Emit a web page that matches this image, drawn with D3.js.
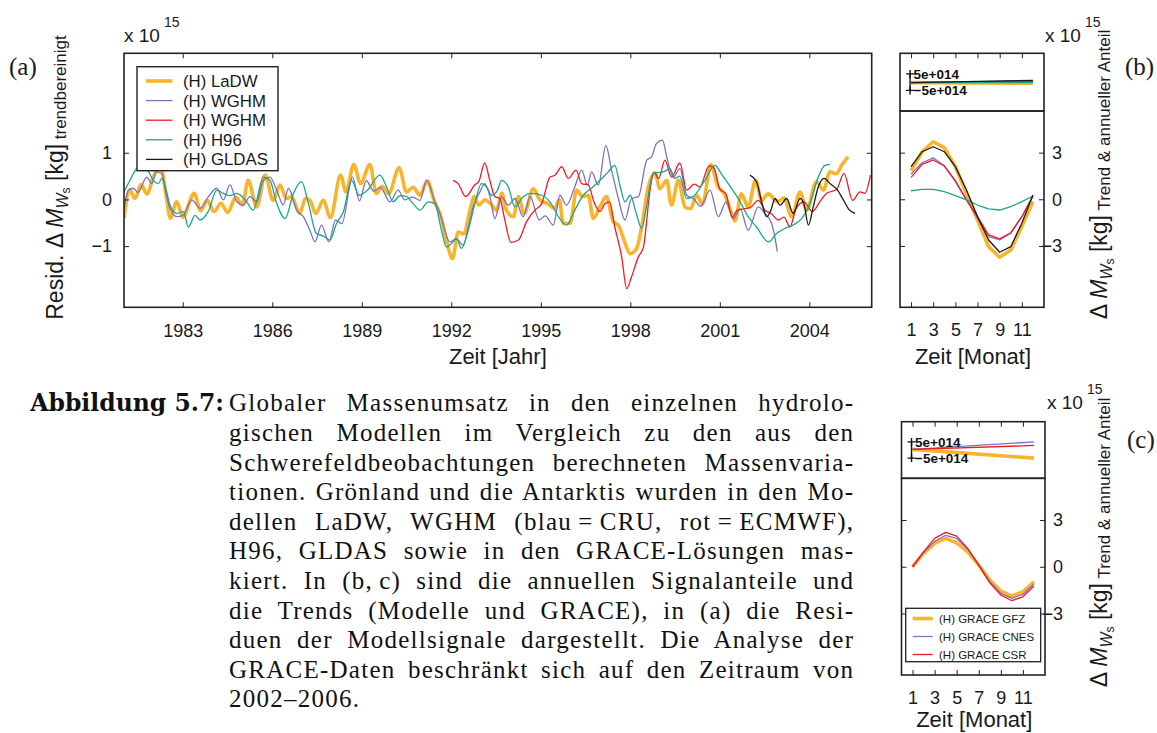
<!DOCTYPE html>
<html lang="de">
<head>
<meta charset="utf-8">
<title>Globaler Massenumsatz – hydrologische Modelle und GRACE</title>
<script src="https://cdn.jsdelivr.net/npm/d3@7/dist/d3.min.js"></script>
<style>
  html, body { margin: 0; padding: 0; background: #fff; }
  svg { display: block; }
</style>
</head>
<body>
<svg id="fig" width="1157" height="733"></svg>
<script>
// ---------------------------------------------------------------
// (a) detrended residuals, [decimal year, 10^15 kg]
// ---------------------------------------------------------------
const ladwResid = [
  [1981.03,-0.40],[1981.22,0.20],[1981.40,0.02],[1981.60,0.32],[1981.80,0.12],[1982.02,0.50],
  [1982.25,0.72],[1982.45,0.05],[1982.58,-0.40],[1982.80,-0.05],[1983.00,-0.38],[1983.38,0.13],
  [1983.60,-0.24],[1983.82,-0.02],[1984.05,-0.26],[1984.28,-0.08],[1984.50,-0.28],[1984.78,0.05],
  [1985.00,-0.12],[1985.19,0.41],[1985.48,-0.16],[1985.76,0.52],[1986.03,-0.02],[1986.26,0.31],
  [1986.47,0.02],[1986.64,0.06],[1986.92,-0.30],[1987.11,0.02],[1987.26,-0.02],[1987.46,-0.30],
  [1987.71,-0.02],[1987.95,-0.39],[1988.29,0.52],[1988.47,0.16],[1988.73,0.75],[1988.96,0.34],
  [1989.27,0.75],[1989.49,0.13],[1989.68,0.28],[1989.90,0.12],[1990.25,0.68],[1990.50,0.16],
  [1990.72,0.26],[1990.95,0.09],[1991.20,0.40],[1991.42,-0.02],[1991.67,-0.40],[1991.88,-1.00],
  [1992.04,-1.27],[1992.23,-0.70],[1992.42,-0.74],[1992.62,-0.25],[1992.77,0.06],[1992.92,-0.12],
  [1993.13,-0.01],[1993.30,-0.08],[1993.52,-0.23],[1993.69,0.13],[1993.85,-0.23],[1994.08,-0.37],
  [1994.25,0.06],[1994.44,-0.30],[1994.75,0.23],[1994.97,-0.01],[1995.20,-0.08],[1995.47,-0.19],
  [1995.62,-0.01],[1995.75,-0.51],[1995.98,-0.51],[1996.20,0.20],[1996.40,0.06],[1996.59,0.09],
  [1996.76,-0.41],[1996.98,-0.16],[1997.20,0.06],[1997.43,-0.48],[1997.60,-0.55],[1997.79,-0.87],
  [1997.99,-1.16],[1998.21,-1.05],[1998.38,-0.59],[1998.60,0.27],[1998.83,0.56],[1998.99,0.23],
  [1999.22,0.41],[1999.38,-0.12],[1999.61,0.41],[1999.83,-0.16],[2000.02,-0.20],[2000.22,0.09],
  [2000.42,-0.10],[2000.70,0.75],[2000.92,0.30],[2001.17,0.10],[2001.34,-0.20],[2001.51,-0.46],
  [2001.72,0.12],[2001.95,-0.16],[2002.20,0.41],[2002.40,-0.02],[2002.62,0.12],[2002.93,-0.05],
  [2003.15,0.03],[2003.41,-0.37],[2003.69,0.16],[2003.91,-0.23],[2004.24,0.38],[2004.47,0.20],
  [2004.69,0.59],[2004.90,0.55],[2005.08,0.73],[2005.30,0.91]
];
const wghmCruResid = [
  [1981.03,-0.23],[1981.18,0.20],[1981.34,0.24],[1981.50,0.15],[1981.79,0.48],[1981.96,0.34],
  [1982.12,0.59],[1982.30,0.55],[1982.45,0.10],[1982.57,-0.19],[1982.80,-0.37],[1983.00,-0.34],
  [1983.30,-0.01],[1983.58,-0.19],[1983.86,0.06],[1984.14,0.24],[1984.36,-0.01],[1984.58,0.31],
  [1984.81,-0.05],[1985.03,-0.12],[1985.25,0.06],[1985.48,-0.05],[1985.70,0.41],[1985.92,0.48],
  [1986.15,0.20],[1986.37,-0.12],[1986.54,0.24],[1986.82,-0.23],[1987.04,-0.37],[1987.26,-0.66],
  [1987.43,-0.91],[1987.65,-0.55],[1987.90,-0.91],[1988.12,-0.44],[1988.33,-0.52],[1988.69,0.48],
  [1988.92,-0.03],[1989.15,0.40],[1989.40,0.18],[1989.62,0.26],[1989.94,-0.05],[1990.22,0.20],
  [1990.44,-0.01],[1990.70,0.05],[1990.95,-0.02],[1991.17,0.41],[1991.45,-0.05],[1991.62,-0.30],
  [1991.78,-0.66],[1991.95,-0.91],[1992.17,-0.84],[1992.40,-0.98],[1992.57,-0.59],[1992.73,-0.16],
  [1992.96,0.16],[1993.12,0.34],[1993.30,0.05],[1993.46,-0.41],[1993.68,0.06],[1993.91,-0.12],
  [1994.13,0.02],[1994.41,-0.37],[1994.64,0.06],[1994.95,-0.44],[1995.15,-0.35],[1995.42,-0.55],
  [1995.64,0.09],[1995.86,-0.12],[1996.14,0.27],[1996.37,0.63],[1996.56,0.31],[1996.70,0.59],
  [1996.93,0.31],[1997.18,1.16],[1997.37,0.63],[1997.60,0.02],[1997.82,-0.44],[1998.04,0.02],
  [1998.27,0.06],[1998.55,0.84],[1998.71,0.91],[1998.88,1.20],[1999.08,1.27],[1999.22,0.91],
  [1999.44,0.48],[1999.66,0.66],[1999.89,0.09],[2000.11,0.02],[2000.36,-0.15],[2000.67,0.20],
  [2000.95,-0.37],[2001.21,-0.05],[2001.45,-0.41],[2001.68,-0.20],[2001.95,-0.66],[2002.29,-0.16],
  [2002.51,-0.30],[2002.74,-0.52],[2002.93,-1.12]
];
const wghmEcmwfResid = [
  [1992.06,0.41],[1992.23,0.34],[1992.48,0.06],[1992.80,0.32],[1992.92,0.38],[1993.12,0.78],
  [1993.29,0.41],[1993.46,0.06],[1993.63,0.02],[1993.78,-0.40],[1994.00,-0.92],[1994.25,-0.87],
  [1994.52,-0.48],[1994.80,-0.23],[1995.03,-0.09],[1995.31,0.48],[1995.48,0.52],[1995.70,0.70],
  [1995.92,0.45],[1996.18,0.63],[1996.37,0.34],[1996.59,0.31],[1996.78,-0.05],[1996.98,-0.26],
  [1997.15,-0.09],[1997.30,-0.05],[1997.48,-0.59],[1997.71,-1.23],[1997.88,-1.91],[1998.04,-1.66],
  [1998.27,-1.23],[1998.44,-1.02],[1998.66,0.20],[1998.79,0.59],[1998.95,0.45],[1999.16,0.84],
  [1999.38,0.48],[1999.66,0.78],[1999.89,0.20],[2000.15,0.33],[2000.33,0.27],[2000.64,0.72],
  [2000.80,0.68],[2001.00,0.22],[2001.20,0.12],[2001.42,-0.38],[2001.58,-0.23],[2001.80,-0.20],
  [2002.01,-0.18],[2002.29,-0.02],[2002.51,-0.23],[2002.72,-0.30],[2002.96,-0.44],[2003.15,-0.38],
  [2003.35,-0.59],[2003.55,-0.20],[2003.82,-0.05],[2004.10,-0.26],[2004.35,-0.05],[2004.58,0.13],
  [2004.92,0.22],[2005.16,0.56],[2005.45,-0.02],[2005.70,0.16],[2005.86,0.13],[2006.05,0.52]
];
const h96Resid = [
  [1981.03,0.16],[1981.23,0.41],[1981.45,0.66],[1981.65,0.75],[1981.85,0.60],[1982.01,0.41],
  [1982.18,0.34],[1982.30,0.45],[1982.46,0.16],[1982.57,-0.12],[1982.80,-0.30],[1983.02,-0.26],
  [1983.19,-0.59],[1983.41,-0.34],[1983.58,-0.44],[1983.86,-0.25],[1984.14,0.20],[1984.36,0.13],
  [1984.58,0.08],[1984.81,0.13],[1985.14,-0.05],[1985.36,-0.23],[1985.70,0.48],[1985.92,0.41],
  [1986.15,-0.09],[1986.43,-0.41],[1986.71,0.13],[1986.98,0.38],[1987.21,-0.09],[1987.48,-0.73],
  [1987.70,-0.78],[1987.93,-0.87],[1988.15,-0.52],[1988.38,-0.27],[1988.66,0.41],[1988.91,0.09],
  [1989.16,0.18],[1989.61,0.52],[1989.83,0.27],[1990.05,-0.05],[1990.28,0.08],[1990.50,0.06],
  [1990.72,-0.09],[1990.95,-0.23],[1991.23,-0.05],[1991.45,-0.09],[1991.67,-0.66],[1991.84,-1.02],
  [1992.01,-0.94],[1992.17,-0.84],[1992.34,-1.05],[1992.57,-0.66],[1992.79,-0.09],[1993.01,0.34],
  [1993.20,0.25],[1993.35,0.09],[1993.55,0.20],[1993.68,0.41],[1993.91,0.27],[1994.13,-0.16],
  [1994.41,0.06],[1994.69,0.13],[1995.03,0.09],[1995.31,-0.05],[1995.59,-0.37],[1995.86,-0.55],
  [1996.14,-0.23],[1996.42,0.09],[1996.70,0.24],[1997.00,0.42],[1997.26,0.59],[1997.48,0.73],
  [1997.65,0.31],[1997.82,-0.05],[1998.00,0.09],[1998.20,-0.30],[1998.38,-0.62],[1998.55,-0.12],
  [1998.77,0.56],[1999.10,0.59],[1999.33,0.66],[1999.49,0.45],[1999.65,0.50],[1999.89,0.02],
  [2000.10,0.06],[2000.50,0.41],[2000.84,0.73],[2001.05,0.55],[2001.28,0.34],[2001.68,-0.05],
  [2001.95,-0.37],[2002.23,-0.59],[2002.63,-0.91],[2002.90,-0.73],[2003.18,-0.62],[2003.45,-0.55],
  [2003.74,-0.41],[2004.02,-0.09],[2004.30,0.48],[2004.52,0.73],[2004.69,0.75]
];
const gldasResid = [
  [2002.01,0.52],[2002.23,0.38],[2002.40,-0.05],[2002.57,-0.37],[2002.70,-0.25],[2002.85,0.02],
  [2003.02,-0.12],[2003.24,0.02],[2003.46,-0.30],[2003.69,0.02],[2003.82,-0.10],[2003.97,-0.55],
  [2004.13,-0.16],[2004.30,0.27],[2004.50,0.45],[2004.69,0.34],[2004.92,0.22],[2005.14,-0.01],
  [2005.31,-0.20],[2005.53,-0.30]
];
const residLabels = ["(H) LaDW", "(H) WGHM", "(H) WGHM", "(H) H96", "(H) GLDAS"];
const yearTicks = [1983, 1986, 1989, 1992, 1995, 1998, 2001, 2004];
const residTicks = [-1, 0, 1];

// ---------------------------------------------------------------
// (b) annual signal of the models, months 1..12, 10^15 kg
// ---------------------------------------------------------------
const months = [1, 2, 3, 4, 5, 6, 7, 8, 9, 10, 11, 12];
const annualLadw      = [1.84, 3.06, 3.70, 3.32, 2.10, 0.38, -1.33, -3.05, -3.73, -3.26, -1.76, -0.15];
const annualWghmCru   = [1.63, 2.35, 2.67, 2.16, 1.13, -0.04, -1.22, -2.40, -2.62, -2.19, -1.12, 0.21];
const annualWghmEcmwf = [1.41, 2.25, 2.53, 2.14, 1.20, -0.04, -1.12, -2.29, -2.55, -2.15, -1.12, 0.21];
const annualH96       = [0.55, 0.64, 0.64, 0.49, 0.23, -0.04, -0.37, -0.62, -0.69, -0.47, -0.15, 0.21];
const annualGldas     = [2.10, 3.06, 3.38, 3.06, 2.10, 0.60, -1.12, -2.62, -3.41, -3.05, -1.54, 0.28];
// trends of the models: value at month 1 and month 12
const trendMonths = [1, 12];
const trendLadw      = [-0.03, -0.07];
const trendWghmCru   = [-0.03, 0.04];
const trendWghmEcmwf = [-0.03, 0.07];
const trendH96       = [-0.03, -0.03];
const trendGldas     = [-0.03, 0.11];

// ---------------------------------------------------------------
// (c) GRACE solutions
// ---------------------------------------------------------------
const annualGfz  = [0.00, 0.86, 1.50, 1.82, 1.54, 0.96, 0.11, -0.86, -1.56, -1.88, -1.61, -0.96];
const annualCnes = [0.00, 0.92, 1.63, 2.02, 1.82, 1.12, 0.11, -0.96, -1.71, -2.03, -1.77, -1.11];
const annualCsr  = [0.00, 0.96, 1.82, 2.21, 1.97, 1.18, 0.11, -1.03, -1.82, -2.18, -1.93, -1.24];
const trendGfz  = [0.04, -0.50];
const trendCnes = [0.04, 0.50];
const trendCsr  = [0.04, 0.28];
const graceLabels = ["(H) GRACE GFZ", "(H) GRACE CNES", "(H) GRACE CSR"];

const monthTicks = [1, 3, 5, 7, 9, 11];
const annualTicks = [-3, 0, 3];
const scaleBar = [0.5, -0.5];

const captionLines = [
  "Globaler Massenumsatz in den einzelnen hydrolo-",
  "gischen Modellen im Vergleich zu den aus den",
  "Schwerefeldbeobachtungen berechneten Massenvaria-",
  "tionen. Grönland und die Antarktis wurden in den Mo-",
  "dellen LaDW, WGHM (blau\u2009=\u2009CRU, rot\u2009=\u2009ECMWF),",
  "H96, GLDAS sowie in den GRACE-Lösungen mas-",
  "kiert. In (b,\u2009c) sind die annuellen Signalanteile und",
  "die Trends (Modelle und GRACE), in (a) die Resi-",
  "duen der Modellsignale dargestellt. Die Analyse der",
  "GRACE-Daten beschränkt sich auf den Zeitraum von",
  "2002–2006."
];

// ---------------------------------------------------------------
// drawing
// ---------------------------------------------------------------
const SANS = "'Liberation Sans', Arial, Helvetica, sans-serif";
const SERIF = "'Liberation Serif', 'Times New Roman', serif";
const INK = "#1a1a1a";
const COL = { orange: "#f9b32c", purple: "#7c72bd", red: "#ec1c24", green: "#19a68b", black: "#1a1a1a" };
const THICK = 3.6, THIN = 1.3;

const svg = d3.select("#fig");

function styleAxis(g, size) {
  g.attr("font-family", SANS).attr("font-size", size);
  g.select(".domain").remove();
  g.selectAll(".tick line").attr("stroke", "#222").attr("stroke-width", 1);
  g.selectAll(".tick text").attr("fill", INK);
  return g;
}
function box(x0, y0, x1, y1, sw) {
  svg.append("rect").attr("x", x0).attr("y", y0).attr("width", x1 - x0).attr("height", y1 - y0)
    .attr("fill", "none").attr("stroke", "#222").attr("stroke-width", sw || 1.6);
}
function times10(x, y) {
  const g = svg.append("g").attr("font-family", SANS).attr("fill", INK);
  g.append("text").attr("x", x).attr("y", y).attr("font-size", 19).text("x 10");
  g.append("text").attr("x", x + 40).attr("y", y - 15).attr("font-size", 14).text("15");
}
function massLabel(x, yCenter, prefix, subText) {
  const t = svg.append("text")
    .attr("transform", `translate(${x},${yCenter}) rotate(-90)`)
    .attr("text-anchor", "middle").attr("font-family", SANS).attr("font-size", 23)
    .attr("fill", INK).style("white-space", "pre");
  t.append("tspan").text(prefix + "\u0394 ");
  t.append("tspan").attr("font-style", "italic").text("M");
  t.append("tspan").attr("font-size", 16).attr("font-style", "italic").attr("dy", 5).text("W");
  t.append("tspan").attr("font-size", 12).attr("dy", 2).text("s");
  t.append("tspan").attr("dy", -7).text(" [kg]");
  t.append("tspan").attr("font-size", 17).attr("dy", 3).text(" " + subText);
}
function panelTag(x, y, s) {
  svg.append("text").attr("x", x).attr("y", y).attr("font-family", SERIF)
    .attr("font-size", 25).attr("fill", INK).text(s);
}

// ----- panel (a) -----
const A = { left: 124, right: 871.7, top: 53.3, bottom: 307.3 };
const xA = d3.scaleLinear().domain([1981.03, 2006.09]).range([A.left, A.right]);
const yA = d3.scaleLinear().domain([-2.31, 3.13]).range([A.bottom, A.top]);

svg.append("clipPath").attr("id", "clipA").append("rect")
  .attr("x", A.left).attr("y", A.top).attr("width", A.right - A.left).attr("height", A.bottom - A.top);

const residSeries = [
  { data: ladwResid, color: COL.orange, width: THICK },
  { data: wghmCruResid, color: COL.purple, width: THIN },
  { data: wghmEcmwfResid, color: COL.red, width: THIN },
  { data: h96Resid, color: COL.green, width: THIN },
  { data: gldasResid, color: COL.black, width: THIN }
];
const lineA = d3.line().x(d => xA(d[0])).y(d => yA(d[1])).curve(d3.curveMonotoneX);
const plotA = svg.append("g").attr("clip-path", "url(#clipA)");
residSeries.forEach(s => {
  plotA.append("path").datum(s.data).attr("d", lineA).attr("fill", "none")
    .attr("stroke", s.color).attr("stroke-width", s.width).attr("stroke-linejoin", "round");
});

styleAxis(svg.append("g").attr("transform", `translate(0,${A.bottom})`)
  .call(d3.axisBottom(xA).tickValues(yearTicks).tickFormat(d3.format("d")).tickSize(-5).tickPadding(17)), 18);
styleAxis(svg.append("g").attr("transform", `translate(0,${A.top})`)
  .call(d3.axisTop(xA).tickValues(yearTicks).tickFormat("").tickSize(-5)), 18);
styleAxis(svg.append("g").attr("transform", `translate(${A.left},0)`)
  .call(d3.axisLeft(yA).tickValues(residTicks).tickFormat(d3.format("d")).tickSize(-5).tickPadding(12)), 18);
styleAxis(svg.append("g").attr("transform", `translate(${A.right},0)`)
  .call(d3.axisRight(yA).tickValues(residTicks).tickFormat("").tickSize(-5)), 18);
box(A.left, A.top, A.right, A.bottom);

// legend (a)
const legA = svg.append("g").attr("font-family", SANS).attr("font-size", 16.8).attr("fill", INK);
legA.append("rect").attr("x", 137).attr("y", 66.7).attr("width", 141).attr("height", 104)
  .attr("fill", "#fff").attr("stroke", "#222").attr("stroke-width", 1.4);
residSeries.forEach((s, i) => {
  const yy = 81 + i * 19.6;
  legA.append("line").attr("x1", 146).attr("x2", 172.5).attr("y1", yy).attr("y2", yy)
    .attr("stroke", s.color).attr("stroke-width", s.width);
  legA.append("text").attr("x", 183).attr("y", yy).attr("dy", "0.36em").text(residLabels[i]);
});

svg.append("text").attr("x", (A.left + A.right) / 2).attr("y", 364).attr("text-anchor", "middle")
  .attr("font-family", SANS).attr("font-size", 22).attr("fill", INK).text("Zeit [Jahr]");
times10(124, 41.5);
massLabel(63, 177.5, "Resid. ", "trendbereinigt");
panelTag(9, 75, "(a)");

// ----- panels (b) and (c) -----
function annualPanel(P) {
  const x = d3.scaleLinear().domain([0, 13]).range([P.left, P.right]);
  const yLow = d3.scaleLinear().domain([-6.95, 5.68]).range([P.bottom, P.mid]);
  const yUp = d3.scaleLinear().domain([-1.75, 1.75]).range([P.mid, P.top]);
  const clipId = "clip" + P.id;
  svg.append("clipPath").attr("id", clipId).append("rect")
    .attr("x", P.left).attr("y", P.mid).attr("width", P.right - P.left).attr("height", P.bottom - P.mid);

  // trends (upper strip)
  const lineUp = d3.line().x((d, i) => x(trendMonths[i])).y(d => yUp(d));
  const up = svg.append("g");
  P.series.forEach(s => {
    up.append("path").datum(s.trend).attr("d", lineUp).attr("fill", "none")
      .attr("stroke", s.color).attr("stroke-width", s.width);
  });
  // scale bar ±5e+014 with cross markers at its ends
  const xb = x(1) - 1;
  up.append("line").attr("x1", xb).attr("x2", xb).attr("y1", yUp(scaleBar[0])).attr("y2", yUp(scaleBar[1]))
    .attr("stroke", "#111").attr("stroke-width", 1.4);
  scaleBar.forEach(v => {
    up.append("path").attr("d", `M${xb - 4},${yUp(v)}H${xb + 4}M${xb},${yUp(v) - 4}V${yUp(v) + 4}`)
      .attr("stroke", "#111").attr("stroke-width", 1.4);
    up.append("text").attr("x", xb + 3.5).attr("y", yUp(v)).attr("dy", "0.36em")
      .attr("font-family", SANS).attr("font-size", 13.5).attr("font-weight", "bold").attr("fill", "#111")
      .text(v > 0 ? "5e+014" : "\u22125e+014");
  });

  // annual signal (lower part)
  const lineLow = d3.line().x((d, i) => x(months[i])).y(d => yLow(d));
  const low = svg.append("g").attr("clip-path", `url(#${clipId})`);
  P.series.forEach(s => {
    low.append("path").datum(s.annual).attr("d", lineLow).attr("fill", "none")
      .attr("stroke", s.color).attr("stroke-width", s.width).attr("stroke-linejoin", "round");
  });

  styleAxis(svg.append("g").attr("transform", `translate(0,${P.bottom})`)
    .call(d3.axisBottom(x).tickValues(monthTicks).tickFormat(d3.format("d")).tickSize(-5).tickPadding(16)), 18);
  styleAxis(svg.append("g").attr("transform", `translate(0,${P.top})`)
    .call(d3.axisTop(x).tickValues(monthTicks).tickFormat("").tickSize(-5)), 18);
  const yr = styleAxis(svg.append("g").attr("transform", `translate(${P.right},0)`)
    .call(d3.axisRight(yLow).tickValues(annualTicks).tickFormat(d3.format("d")).tickSize(-5).tickPadding(18)), 18);
  yr.selectAll(".tick text").attr("text-anchor", "end");
  styleAxis(svg.append("g").attr("transform", `translate(${P.left},0)`)
    .call(d3.axisLeft(yLow).tickValues(annualTicks).tickFormat("").tickSize(-5)), 18);
  box(P.left, P.top, P.right, P.mid);
  box(P.left, P.mid, P.right, P.bottom);

  svg.append("text").attr("x", (P.left + P.right) / 2 + 1).attr("y", Math.min(P.bottom + 57, 727))
    .attr("text-anchor", "middle")
    .attr("font-family", SANS).attr("font-size", 22).attr("fill", INK).text("Zeit [Monat]");
  return { x, yLow };
}

annualPanel({
  id: "B", left: 900, right: 1044, top: 53.3, mid: 111, bottom: 307.3,
  series: [
    { annual: annualLadw, trend: trendLadw, color: COL.orange, width: THICK },
    { annual: annualWghmCru, trend: trendWghmCru, color: COL.purple, width: THIN },
    { annual: annualWghmEcmwf, trend: trendWghmEcmwf, color: COL.red, width: THIN },
    { annual: annualH96, trend: trendH96, color: COL.green, width: THIN },
    { annual: annualGldas, trend: trendGldas, color: COL.black, width: THIN }
  ]
});
times10(1045, 41.5);
massLabel(1107, 174.5, "", "Trend & annueller Anteil");
panelTag(1125, 75, "(b)");

const graceSeries = [
  { annual: annualGfz, trend: trendGfz, color: COL.orange, width: THICK },
  { annual: annualCnes, trend: trendCnes, color: COL.purple, width: THIN },
  { annual: annualCsr, trend: trendCsr, color: COL.red, width: THIN }
];
annualPanel({ id: "C", left: 901.5, right: 1045, top: 421.7, mid: 478.3, bottom: 675, series: graceSeries });
times10(1047, 409);
massLabel(1107, 542.5, "", "Trend & annueller Anteil");
panelTag(1127, 448, "(c)");

// legend (c)
const legC = svg.append("g").attr("font-family", SANS).attr("font-size", 11.5).attr("fill", INK);
legC.append("rect").attr("x", 905.7).attr("y", 608.3).attr("width", 135).attr("height", 53.4)
  .attr("fill", "#fff").attr("stroke", "#222").attr("stroke-width", 1.3);
graceSeries.forEach((s, i) => {
  const yy = 618.5 + i * 18;
  legC.append("line").attr("x1", 912.7).attr("x2", 932.7).attr("y1", yy).attr("y2", yy)
    .attr("stroke", s.color).attr("stroke-width", s.width);
  legC.append("text").attr("x", 939).attr("y", yy).attr("dy", "0.36em").text(graceLabels[i]);
});

// ----- caption, justified line by line -----
svg.append("text").attr("x", 224).attr("y", 411.4).attr("text-anchor", "end")
  .attr("font-family", "'DejaVu Serif', serif").attr("font-weight", "bold").attr("font-size", 23.5)
  .attr("fill", "#111").text("Abbildung 5.7:");
const capLeft = 229, capRight = 853;
const cap = svg.append("g").attr("font-family", SERIF).attr("font-size", 25)
  .attr("fill", "#111").style("letter-spacing", "1.25px");
captionLines.forEach((line, i) => {
  const t = cap.append("text").attr("x", capLeft).attr("y", 411.4 + i * 29.6)
    .style("white-space", "pre").text(line);
  if (i < captionLines.length - 1) {
    const gaps = (line.match(/ /g) || []).length;
    const w = t.node().getComputedTextLength() - 1.25;
    if (gaps) t.style("word-spacing", ((capRight - capLeft - w) / gaps) + "px");
  }
});
</script>
</body>
</html>
